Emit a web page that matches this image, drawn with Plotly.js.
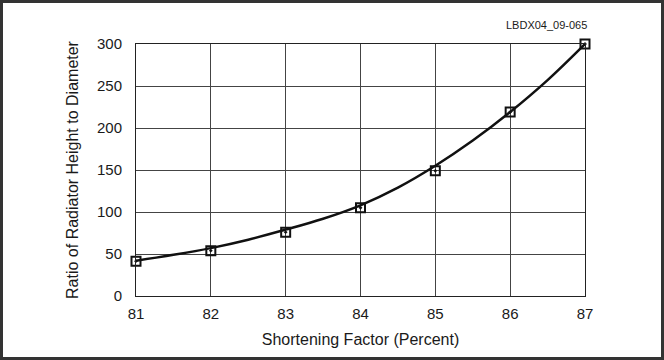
<!DOCTYPE html>
<html>
<head>
<meta charset="utf-8">
<script src="https://cdn.plot.ly/plotly-3.0.1.min.js"></script>
<style>
html,body{margin:0;padding:0;background:#fff;}
#wrap{position:relative;width:664px;height:360px;}
#chart{width:664px;height:360px;}
#frame{position:absolute;left:0;top:0;width:664px;height:360px;box-sizing:border-box;border:3px solid #333;pointer-events:none;}
</style>
</head>
<body>
<div id="wrap"><div id="chart"></div><div id="frame"></div></div>
<script>
const shorteningFactor = [81, 82, 83, 84, 85, 86, 87];
const measuredRatio = [41.5, 54, 76, 105, 149, 219, 300];
const curveX = [81, 81.5, 82, 82.5, 83, 83.5, 84, 84.5, 85, 85.5, 86, 86.5, 87];
const curveRatio = [42, 49, 57, 67, 79, 92, 108, 129, 155, 185, 219, 257, 300];
const xTicks = [81, 82, 83, 84, 85, 86, 87];
const yTicks = [0, 50, 100, 150, 200, 250, 300];

const font = {family: 'Liberation Sans, Arial, sans-serif', color: '#1a1a1a'};
const f = s => Object.assign({size: s}, font);

Plotly.newPlot('chart', [
  {x: curveX, y: curveRatio, type: 'scatter', mode: 'lines', cliponaxis: false,
   line: {color: '#111', width: 2.5, shape: 'spline', smoothing: 1}, hoverinfo: 'skip'},
  {x: shorteningFactor, y: measuredRatio, type: 'scatter', mode: 'markers', cliponaxis: false,
   marker: {symbol: 'square-open-dot', size: 9, color: '#111', line: {color: '#111', width: 2}}}
], {
  width: 664, height: 360,
  margin: {l: 136, r: 79, t: 44, b: 64},
  paper_bgcolor: '#fff', plot_bgcolor: '#fff',
  showlegend: false,
  font: f(15),
  xaxis: {range: [81, 87], tickvals: xTicks, ticktext: xTicks.map(String),
    showgrid: true, gridcolor: '#444', gridwidth: 1, zeroline: false,
    showline: true, linecolor: '#222', linewidth: 1, mirror: true, ticks: '',
    ticklabelstandoff: 4,
    tickfont: f(15),
    title: {text: 'Shortening Factor (Percent)', font: f(16), standoff: 12}},
  yaxis: {range: [0, 300], tickvals: yTicks, ticktext: yTicks.map(String),
    showgrid: true, gridcolor: '#444', gridwidth: 1, zeroline: false,
    showline: true, linecolor: '#222', linewidth: 1, mirror: true, ticks: '',
    ticklabelstandoff: 10,
    tickfont: f(15),
    title: {text: 'Ratio of Radiator Height to Diameter', font: f(16), standoff: 14}},
  annotations: [{text: 'LBDX04_09-065', xref: 'paper', yref: 'paper', x: 1, y: 1,
    xanchor: 'right', yanchor: 'middle', yshift: 19, xshift: 4, showarrow: false,
    font: f(11)}]
}, {displayModeBar: false, staticPlot: true});
</script>
</body>
</html>
